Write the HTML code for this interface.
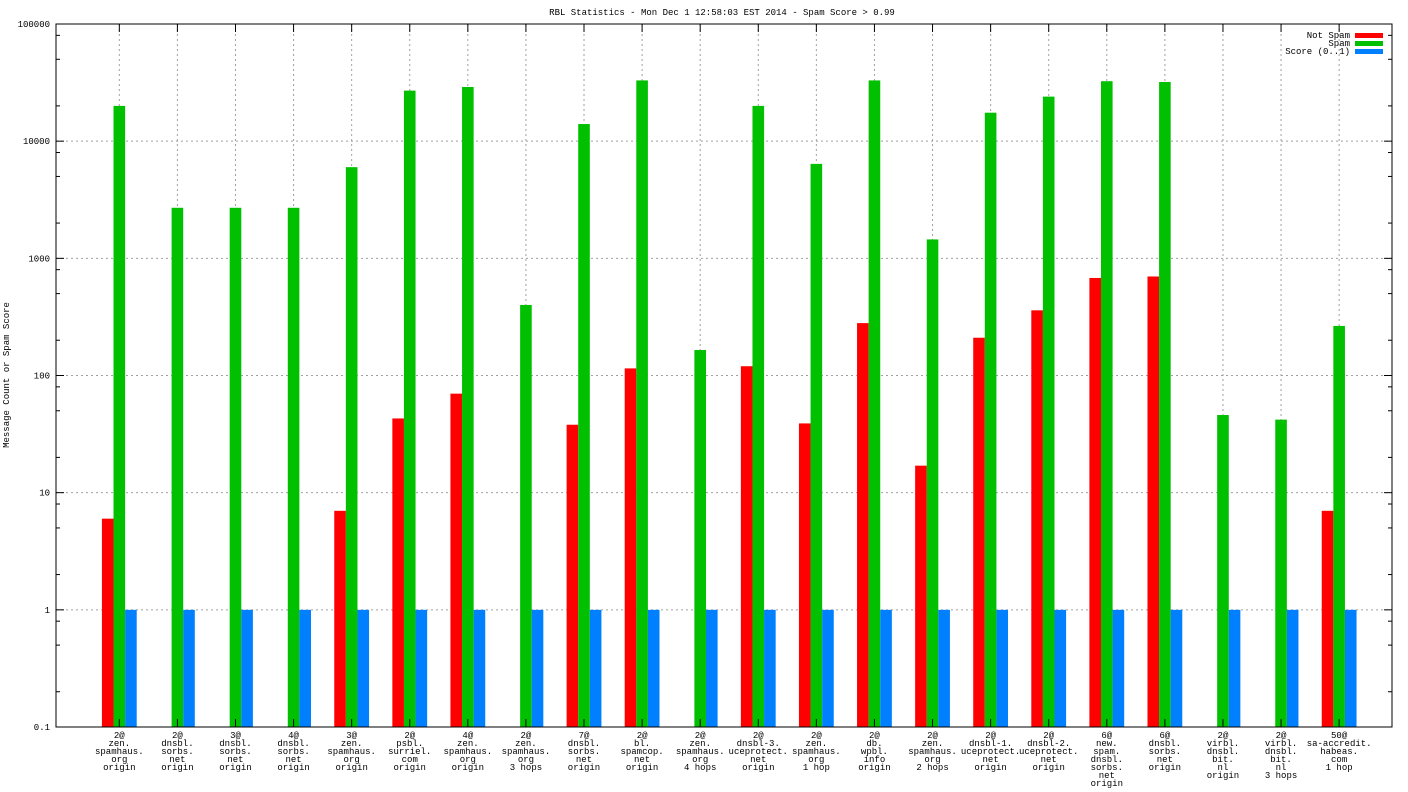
<!DOCTYPE html>
<html><head><meta charset="utf-8"><style>
html,body{margin:0;padding:0;background:#fff;}
svg{display:block;font-family:"Liberation Mono","DejaVu Sans Mono",monospace;}
</style></head><body>
<svg id="chart" width="1408" height="792" viewBox="0 0 1408 792" xmlns="http://www.w3.org/2000/svg">
<rect x="0" y="0" width="1408" height="792" fill="#fff"/>
<text x="722" y="15" font-size="9" text-anchor="middle">RBL Statistics - Mon Dec  1 12:58:03 EST 2014 - Spam Score &gt; 0.99</text>
<text transform="translate(9,375) rotate(-90)" font-size="9" text-anchor="middle">Message Count or Spam Score</text>
<g id="grid"></g><g id="bars"></g><g id="axes"></g><g id="labels"></g>
<g>
<text x="1350" y="38" font-size="9" text-anchor="end">Not Spam</text>
<rect x="1355" y="33" width="28" height="5" fill="#ff0000"/>
<text x="1350" y="46" font-size="9" text-anchor="end">Spam</text>
<rect x="1355" y="41" width="28" height="5" fill="#00c000"/>
<text x="1350" y="54" font-size="9" text-anchor="end">Score (0..1)</text>
<rect x="1355" y="49" width="28" height="5" fill="#0080ff"/>
</g>
</svg>
<script>
const categories = [
["2@","zen.","spamhaus.","org","origin"],
["2@","dnsbl.","sorbs.","net","origin"],
["3@","dnsbl.","sorbs.","net","origin"],
["4@","dnsbl.","sorbs.","net","origin"],
["3@","zen.","spamhaus.","org","origin"],
["2@","psbl.","surriel.","com","origin"],
["4@","zen.","spamhaus.","org","origin"],
["2@","zen.","spamhaus.","org","3 hops"],
["7@","dnsbl.","sorbs.","net","origin"],
["2@","bl.","spamcop.","net","origin"],
["2@","zen.","spamhaus.","org","4 hops"],
["2@","dnsbl-3.","uceprotect.","net","origin"],
["2@","zen.","spamhaus.","org","1 hop"],
["2@","db.","wpbl.","info","origin"],
["2@","zen.","spamhaus.","org","2 hops"],
["2@","dnsbl-1.","uceprotect.","net","origin"],
["2@","dnsbl-2.","uceprotect.","net","origin"],
["6@","new.","spam.","dnsbl.","sorbs.","net","origin"],
["6@","dnsbl.","sorbs.","net","origin"],
["2@","virbl.","dnsbl.","bit.","nl","origin"],
["2@","virbl.","dnsbl.","bit.","nl","3 hops"],
["50@","sa-accredit.","habeas.","com","1 hop"]
];
const notSpam = [6,null,null,null,7,43,70,null,38,115,null,120,39,280,17,210,360,680,700,null,null,7];
const spam = [20000,2700,2700,2700,6000,27000,29000,400,14000,33000,165,20000,6400,33000,1450,17500,24000,32500,32000,46,42,265];
const score = [1,1,1,1,1,1,1,1,1,1,1,1,1,1,1,1,1,1,1,1,1,1];
const yTicks = [0.1,1,10,100,1000,10000,100000];
const yTickLabels = ["0.1","1","10","100","1000","10000","100000"];
const minorMult = [2,5,8];

const NS="http://www.w3.org/2000/svg";
const L=56,R=1392,T=24,B=727;
const yMin=-1,yMax=5;
function y(v){return B-(Math.log10(v)-yMin)/(yMax-yMin)*(B-T);}
function x(i){return L+(i+1.09)*(R-L)/23;}
const bw=11.6;
function mk(tag,attrs,parent){const e=document.createElementNS(NS,tag);for(const k in attrs)e.setAttribute(k,attrs[k]);document.getElementById(parent).appendChild(e);return e;}

yTicks.forEach((v,i)=>{
  const yy=y(v);
  if(i>0&&i<yTicks.length-1){const g=mk('line',{x1:L,x2:R,y1:yy,y2:yy,stroke:'#a0a0a0','stroke-dasharray':'2,3','stroke-width':1},'grid');
  
  }
  mk('line',{x1:L,x2:L+8,y1:yy,y2:yy,stroke:'#000'},'axes');
  mk('line',{x1:R,x2:R-8,y1:yy,y2:yy,stroke:'#000'},'axes');
  const t=mk('text',{x:L-6,y:yy+3,'font-size':9,'text-anchor':'end'},'labels');
  t.textContent=yTickLabels[i];
  
  
  if(i<yTicks.length-1){minorMult.forEach(m=>{const my=y(v*m);
    mk('line',{x1:L,x2:L+4,y1:my,y2:my,stroke:'#000'},'axes');
    mk('line',{x1:R,x2:R-4,y1:my,y2:my,stroke:'#000'},'axes');});}
});
categories.forEach((c,i)=>{
  const cx=x(i);
  const g=mk('line',{x1:cx,x2:cx,y1:T,y2:B,stroke:'#a0a0a0','stroke-dasharray':'2,3'},'grid');
  
  
  mk('line',{x1:cx,x2:cx,y1:B,y2:B-8,stroke:'#000'},'axes');
  mk('line',{x1:cx,x2:cx,y1:T,y2:T+8,stroke:'#000'},'axes');
  const t=mk('text',{x:cx,y:738,'font-size':9,'text-anchor':'middle'},'labels');
  
  
  c.forEach((ln,j)=>{const s=document.createElementNS(NS,'tspan');s.setAttribute('x',cx);s.setAttribute('dy',j?8:0);s.textContent=ln;t.appendChild(s);});
  const series=[[notSpam,'#ff0000',-1,'bar-not-spam'],[spam,'#00c000',0,'bar-spam'],[score,'#0080ff',1,'bar-score']];
  series.forEach(([arr,col,off,nm])=>{
    const v=arr[i]; if(v==null)return;
    const top=y(v);
    const r=mk('rect',{x:cx-bw/2+off*bw,y:top,width:bw,height:B-top,fill:col},'bars');
    
    
  });
});
const f=mk('rect',{x:L,y:T,width:R-L,height:B-T,fill:'none',stroke:'#000','stroke-width':1},'axes');


</script>
</body></html>
